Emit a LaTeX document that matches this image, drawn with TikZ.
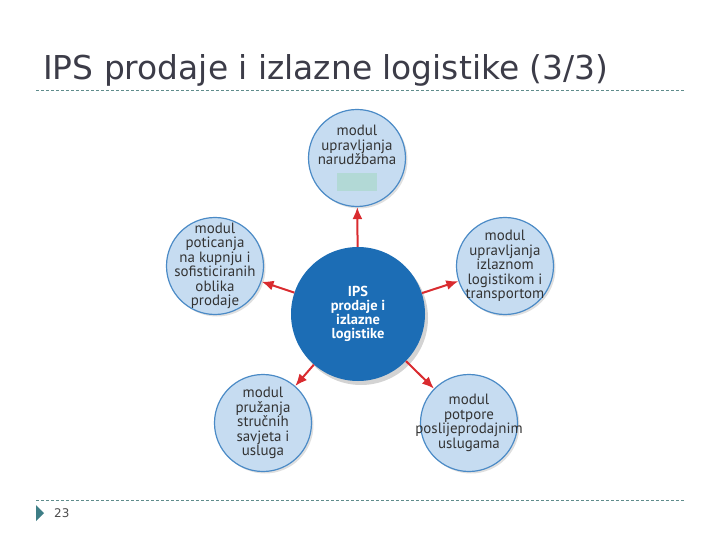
\documentclass[tikz,border=0pt]{standalone}
\usepackage{fontspec}
\setmainfont{DejaVu Sans}
\newfontfamily\modulfont{PT Sans}
\usetikzlibrary{shadows,arrows.meta}

\definecolor{titelgrau}{HTML}{3C3C48}
\definecolor{liniengruen}{HTML}{5F8C8C}
\definecolor{markegruen}{HTML}{3E7E86}
\definecolor{ipsblau}{HTML}{1C6DB5}
\definecolor{modulfuell}{HTML}{C6DCF1}
\definecolor{modulrand}{HTML}{4A8AC6}
\definecolor{pfeilrot}{HTML}{D92B2F}
\definecolor{kastentuerkis}{HTML}{B2D9D6}

\begin{document}
\begin{tikzpicture}
		[
		x=1bp, y=-1bp, >=latex,
		%Voreinstellungen
		modul/.style={circle, draw=modulrand, line width=1.2bp, fill=modulfuell, minimum size=97bp, inner sep=-25bp, align=center, text=black!80, font=\modulfont\fontsize{15}{14.5}\selectfont, drop shadow={shadow xshift=2bp, shadow yshift=-2bp, opacity=0.25}},
		pfeil/.style={-{Latex[length=12bp, width=10bp]}, pfeilrot, line width=2bp},
		trenn/.style={liniengruen, line width=0.8bp, dash pattern=on 3bp off 2bp}
		]
		
		\useasboundingbox (0,0) rectangle (720,540);
		
		%Titel
		\node[anchor=base west, inner sep=0pt, text=titelgrau, font=\fontsize{33}{36}\selectfont] (titel) at (43,80) {IPS prodaje i izlazne logistike (3/3)};
		
		%Trennlinien oben und unten
		\draw[trenn] (36,90) -- (686,90);
		\draw[trenn] (36,500) -- (686,500);
		
		%Seitenzahl
		\fill[markegruen] (36,505) -- (44,513) -- (36,521) -- cycle;
		\node[anchor=west, inner sep=0pt, text=black!70, font=\fontsize{12}{13}\selectfont] (seite) at (54,513) {23};
		
		%Kreis in der Mitte
		\node[circle, fill=ipsblau, minimum size=134bp, inner sep=0pt, align=center, text=white, font=\modulfont\bfseries\fontsize{14.5}{14.2}\selectfont, drop shadow={shadow xshift=3bp, shadow yshift=-4bp, opacity=0.35}] (ips) at (358,314) {IPS\\prodaje i\\izlazne\\logistike};
		
		%Module rundherum
		\node[modul] (narudzbe) at (357,158) {modul\\upravljanja\\narudžbama\\{\color{kastentuerkis}\rule[-12bp]{40bp}{18bp}}};
		\node[modul] (poticanje) at (215,266) {modul\\poticanja\\na kupnju i\\sofisticiranih\\oblika\\prodaje};
		\node[modul] (transport) at (505,266) {modul\\upravljanja\\izlaznom\\logistikom i\\transportom};
		\node[modul] (savjeti) at (263,423) {modul\\pružanja\\stručnih\\savjeta i\\usluga};
		\node[modul] (potpora) at (469,423) {modul\\potpore\\poslijeprodajnim\\uslugama};
		
		%Pfeile
		\draw[pfeil] (ips) -- (narudzbe);
		\draw[pfeil] (ips) -- (poticanje);
		\draw[pfeil] (ips) -- (transport);
		\draw[pfeil] (ips) -- (savjeti);
		\draw[pfeil] (ips) -- (potpora);
		
	\end{tikzpicture}
\end{document}
